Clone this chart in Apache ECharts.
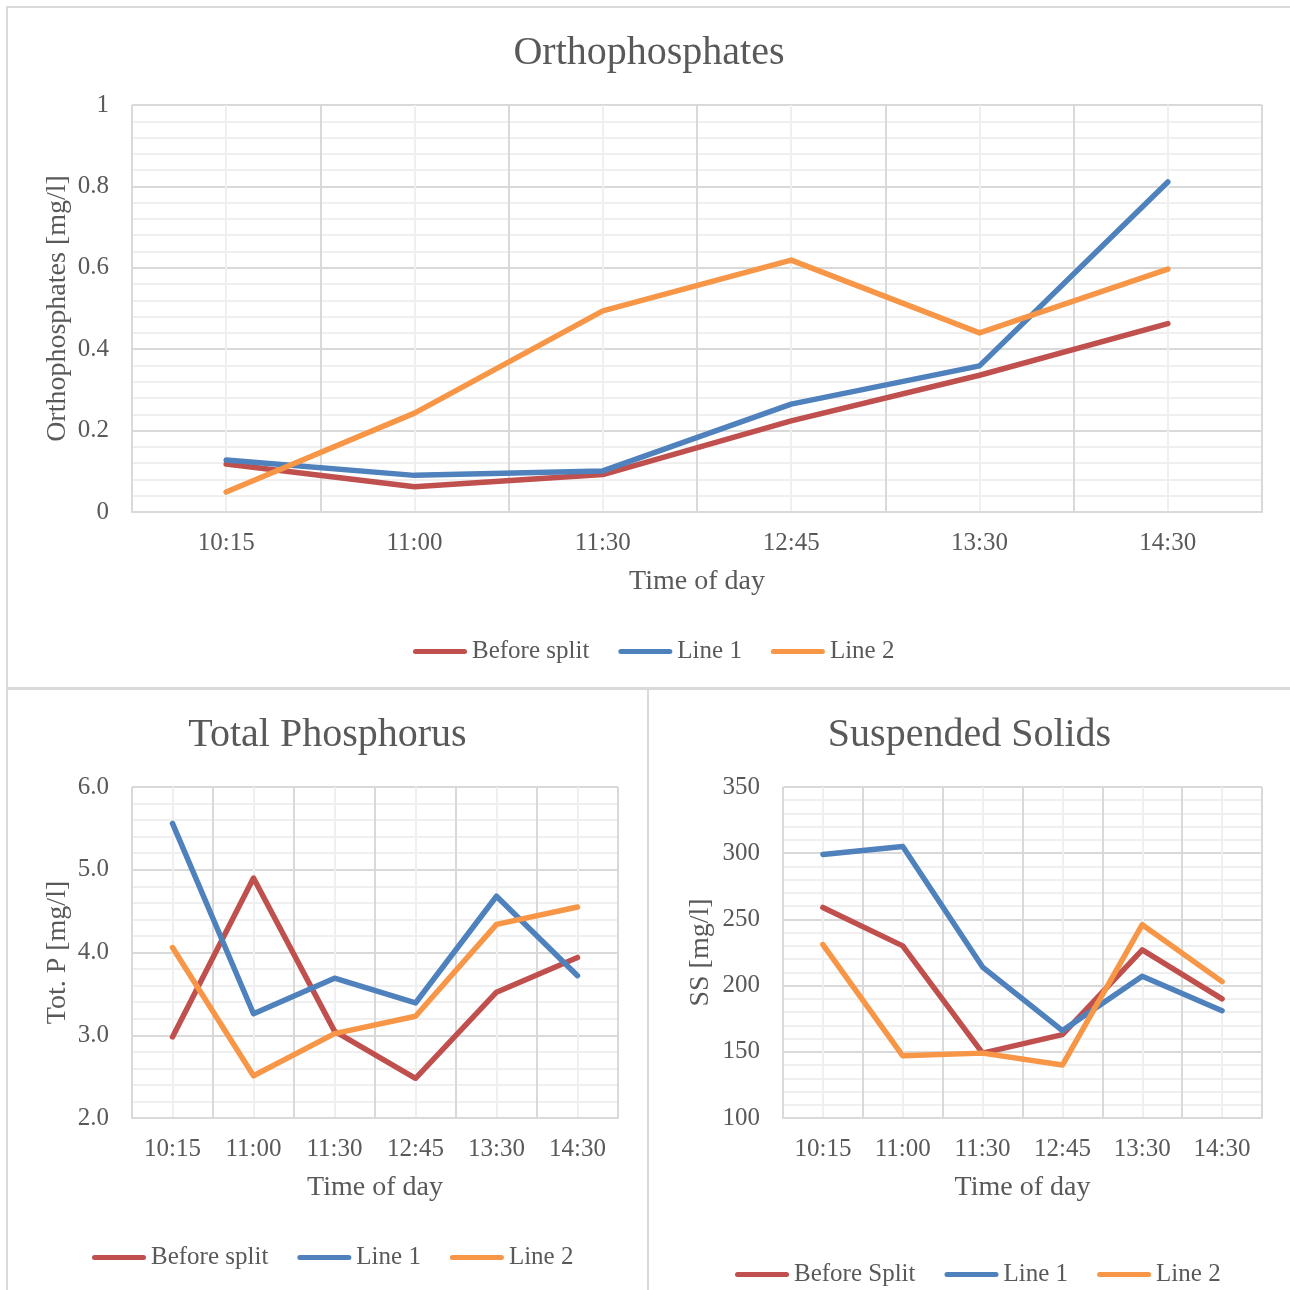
<!DOCTYPE html>
<html>
<head>
<meta charset="utf-8">
<title>Phosphorus and suspended solids over the day</title>
<script src="https://cdn.jsdelivr.net/npm/echarts@6/dist/echarts.min.js"></script>
<style>
  html, body { margin: 0; padding: 0; background: #ffffff; width: 1290px; height: 1290px; overflow: hidden; }
  body { position: relative; }
  .panel { position: absolute; }
  .rule { position: absolute; background: #d9d9d9; }
</style>
</head>
<body>
<div class="rule" style="left:6px;top:6px;width:1284px;height:2px"></div>
<div class="rule" style="left:6px;top:6px;width:2px;height:1284px"></div>
<div class="rule" style="left:6px;top:687px;width:1284px;height:3px"></div>
<div class="rule" style="left:647px;top:687px;width:2px;height:603px"></div>

<div id="ortho" class="panel" style="left:8px;top:8px;width:1282px;height:679px"></div>
<div id="tp" class="panel" style="left:8px;top:690px;width:639px;height:600px"></div>
<div id="ss" class="panel" style="left:649px;top:690px;width:641px;height:600px"></div>

<script>
// Sampling times
const times = ['10:15', '11:00', '11:30', '12:45', '13:30', '14:30'];

// Orthophosphates [mg/l]
const orthoBefore = [0.118, 0.062, 0.092, 0.224, 0.336, 0.463];
const orthoLine1  = [0.128, 0.090, 0.101, 0.265, 0.359, 0.811];
const orthoLine2  = [0.049, 0.243, 0.494, 0.619, 0.440, 0.597];

// Total phosphorus [mg/l]
const tpBefore = [2.98, 4.90, 3.05, 2.48, 3.52, 3.94];
const tpLine1  = [5.56, 3.26, 3.69, 3.39, 4.68, 3.72];
const tpLine2  = [4.06, 2.51, 3.02, 3.23, 4.34, 4.55];

// Suspended solids [mg/l]
const ssBefore = [259, 230, 149, 163, 227, 190];
const ssLine1  = [299, 305, 214, 166, 207, 181];
const ssLine2  = [231, 147, 149, 140, 246, 203];

const FONT = 'Liberation Serif';
const TEXT = '#595959';
const MAJOR = '#d9d9d9';
const MINOR = '#efefef';
const COLORS = ['#c0504d', '#4f81bd', '#f79646'];
const LEGEND_ICON = 'path://M2.5,0 H51.5 A2.5,2.5 0 0 1 51.5,5 H2.5 A2.5,2.5 0 0 1 2.5,0 Z';

function buildOption(cfg) {
  const names = cfg.names;
  const values = [cfg.before, cfg.line1, cfg.line2];
  return {
    animation: false,
    color: COLORS,
    textStyle: { fontFamily: FONT, color: TEXT },
    title: {
      text: cfg.title,
      left: 'center',
      top: cfg.titleTop,
      padding: 0,
      textStyle: { fontFamily: FONT, fontSize: 40, fontWeight: 'normal', color: TEXT }
    },
    legend: {
      data: names,
      left: cfg.legendLeft,
      top: cfg.legendTop,
      padding: 0,
      icon: LEGEND_ICON,
      itemWidth: 54,
      itemHeight: 5,
      itemGap: 29,
      textStyle: { fontFamily: FONT, fontSize: 25, color: TEXT }
    },
    grid: cfg.grid,
    xAxis: [
      {
        type: 'category',
        data: times,
        boundaryGap: true,
        name: 'Time of day',
        nameLocation: 'middle',
        nameGap: cfg.xNameGap,
        nameTextStyle: { fontFamily: FONT, fontSize: 28, color: TEXT },
        axisLine: { show: true, lineStyle: { color: MAJOR, width: 2 } },
        axisTick: { show: false },
        axisLabel: { margin: 19, fontFamily: FONT, fontSize: 25, color: TEXT },
        splitLine: { show: false }
      },
      {
        // vertical grid: band edges (darker) and band centres (lighter)
        type: 'value',
        min: 0,
        max: times.length * 2,
        interval: 1,
        position: 'bottom',
        axisLine: { show: false },
        axisTick: { show: false },
        axisLabel: { show: false },
        splitLine: { show: true, lineStyle: { color: [MAJOR, MINOR], width: 2 } }
      }
    ],
    yAxis: {
      type: 'value',
      min: cfg.yMin,
      max: cfg.yMax,
      interval: cfg.yStep,
      name: cfg.yName,
      nameLocation: 'middle',
      nameGap: cfg.yNameGap,
      nameMoveOverlap: false,
      nameTextStyle: { fontFamily: FONT, fontSize: 28, color: TEXT },
      axisLine: { show: false },
      axisTick: { show: false },
      axisLabel: {
        margin: 23, fontFamily: FONT, fontSize: 25, color: TEXT,
        formatter: cfg.yFormat
      },
      splitLine: { show: true, lineStyle: { color: MAJOR, width: 2 } },
      minorTick: { show: false, splitNumber: 5 },
      minorSplitLine: { show: true, lineStyle: { color: MINOR, width: 2 } }
    },
    series: names.map((n, i) => ({
      name: n,
      type: 'line',
      xAxisIndex: 0,
      yAxisIndex: 0,
      data: values[i],
      symbol: 'none',
      lineStyle: { width: 5.5, cap: 'round', join: 'round', color: COLORS[i] },
      itemStyle: { color: COLORS[i] },
      z: 3 + i
    }))
  };
}

const orthoChart = echarts.init(document.getElementById('ortho'), null, { renderer: 'canvas' });
orthoChart.setOption(buildOption({
  title: 'Orthophosphates',
  titleTop: 25,
  names: ['Before split', 'Line 1', 'Line 2'],
  before: orthoBefore, line1: orthoLine1, line2: orthoLine2,
  grid: { left: 124, top: 97, right: 28, bottom: 175, containLabel: false },
  yMin: 0, yMax: 1, yStep: 0.2,
  yName: 'Orthophosphates [mg/l]', yNameGap: 60,
  yFormat: v => String(Math.round(v * 10) / 10),
  xNameGap: 56,
  legendLeft: 405,
  legendTop: 631
}));

const tpChart = echarts.init(document.getElementById('tp'), null, { renderer: 'canvas' });
tpChart.setOption(buildOption({
  title: 'Total Phosphorus',
  titleTop: 25,
  names: ['Before split', 'Line 1', 'Line 2'],
  before: tpBefore, line1: tpLine1, line2: tpLine2,
  grid: { left: 124, top: 97, right: 29, bottom: 172, containLabel: false },
  yMin: 2, yMax: 6, yStep: 1,
  yName: 'Tot. P [mg/l]', yNameGap: 60,
  yFormat: v => v.toFixed(1),
  xNameGap: 56,
  legendLeft: 84,
  legendTop: 555
}));

const ssChart = echarts.init(document.getElementById('ss'), null, { renderer: 'canvas' });
ssChart.setOption(buildOption({
  title: 'Suspended Solids',
  titleTop: 25,
  names: ['Before Split', 'Line 1', 'Line 2'],
  before: ssBefore, line1: ssLine1, line2: ssLine2,
  grid: { left: 134, top: 97, right: 28, bottom: 172, containLabel: false },
  yMin: 100, yMax: 350, yStep: 50,
  yName: 'SS [mg/l]', yNameGap: 68,
  yFormat: v => String(v),
  xNameGap: 56,
  legendLeft: 86,
  legendTop: 572
}));
</script>
</body>
</html>
